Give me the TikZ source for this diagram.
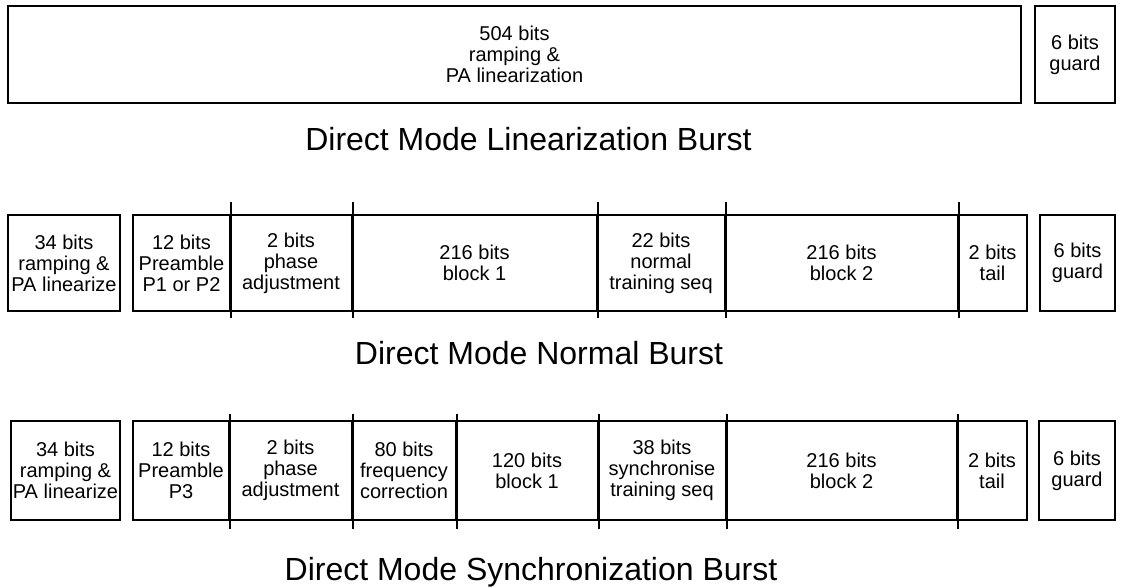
\documentclass[tikz,border=0pt]{standalone}
\usepackage{fontspec}
\setmainfont{Liberation Sans}
\begin{document}
\begin{tikzpicture}[x=1pt, y=-1pt, field/.style={rectangle, draw, line width=2pt, align=center, inner sep=0pt}]
        \tikzstyle{every node}=[font=\fontsize{20}{21}\selectfont]
        \tikzstyle{title}=[anchor=base, font=\fontsize{32}{36}\selectfont]
        \useasboundingbox (0,0) rectangle (1121,587);

          % linearization burst
          \node[field, minimum width=1013pt, minimum height=97pt] (lin) at (514.5,54.5) {504 bits\\ramping \&\\PA linearization};
          \node[field, minimum width=80pt, minimum height=97pt] (linguard) at (1075,54.5) {6 bits\\guard};
          \node[title] (lintitle) at (528.5,150) {Direct Mode Linearization Burst};

          % normal burst
          \node[field, minimum width=112pt, minimum height=96pt] (n1) at (64,263) {34 bits\\ramping \&\\PA linearize};
          \node[field, minimum width=97pt, minimum height=96pt] (n2) at (181.5,263) {12 bits\\Preamble\\P1 or P2};
          \node[field, minimum width=122pt, minimum height=96pt] (n3) at (291,263) {2 bits\\phase\\adjustment};
          \node[field, minimum width=245pt, minimum height=96pt] (n4) at (474.5,263) {216 bits\\block 1};
          \node[field, minimum width=128pt, minimum height=96pt] (n5) at (661,263) {22 bits\\normal\\training seq};
          \node[field, minimum width=233pt, minimum height=96pt] (n6) at (841.5,263) {216 bits\\block 2};
          \node[field, minimum width=69pt, minimum height=96pt] (n7) at (992.5,263) {2 bits\\tail};
          \node[field, minimum width=75pt, minimum height=96pt] (n8) at (1077.5,263) {6 bits\\guard};
          \node[title] (normtitle) at (539,364) {Direct Mode Normal Burst};

          % synchronization burst
          \node[field, minimum width=109pt, minimum height=99pt] (s1) at (65.5,470.5) {34 bits\\ramping \&\\PA linearize};
          \node[field, minimum width=96pt, minimum height=99pt] (s2) at (181,470.5) {12 bits\\Preamble\\P3};
          \node[field, minimum width=123pt, minimum height=99pt] (s3) at (290.5,470.5) {2 bits\\phase\\adjustment};
          \node[field, minimum width=104pt, minimum height=99pt] (s4) at (404,470.5) {80 bits\\frequency\\correction};
          \node[field, minimum width=142pt, minimum height=99pt] (s5) at (527,470.5) {120 bits\\block 1};
          \node[field, minimum width=128pt, minimum height=99pt] (s6) at (662,470.5) {38 bits\\synchronise\\training seq};
          \node[field, minimum width=231pt, minimum height=99pt] (s7) at (841.5,470.5) {216 bits\\block 2};
          \node[field, minimum width=70pt, minimum height=99pt] (s8) at (992,470.5) {2 bits\\tail};
          \node[field, minimum width=76pt, minimum height=99pt] (s9) at (1077,470.5) {6 bits\\guard};
          \node[title] (synctitle) at (531,580) {Direct Mode Synchronization Burst};

          % boundary ticks
          \foreach \f in {n2,n3,n4,n5,n6}
            \draw[line width=2pt] ([yshift=12pt]\f.north east) -- ([yshift=-6pt]\f.south east);
          \foreach \f in {s2,s3,s4,s5,s6,s7}
            \draw[line width=2pt] ([yshift=6pt]\f.north east) -- ([yshift=-8pt]\f.south east);

        \end{tikzpicture}
\end{document}
